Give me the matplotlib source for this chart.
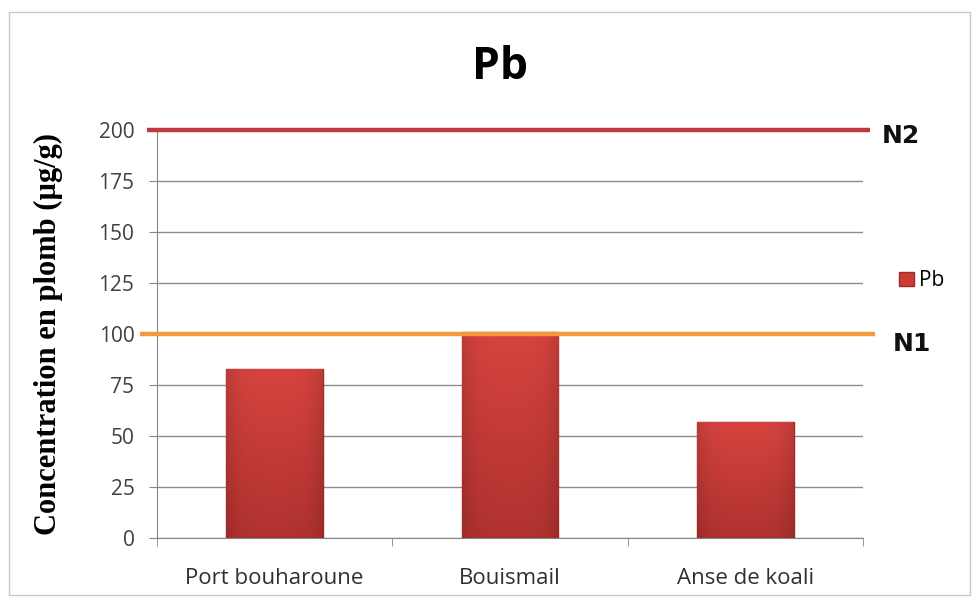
import numpy as np
import matplotlib.pyplot as plt
from matplotlib.patches import Rectangle
from matplotlib.colors import LinearSegmentedColormap

sites = ['Port bouharoune', 'Bouismail', 'Anse de koali']
pb_values = [83, 101, 57]
yticks = [0, 25, 50, 75, 100, 125, 150, 175, 200]
n1 = 100
n2 = 200

fig = plt.figure(figsize=(9.79, 6.01), dpi=100, facecolor='w')
fig.patches.append(Rectangle((0.009, 0.01), 0.982, 0.97, transform=fig.transFigure,
                             facecolor='none', edgecolor='#c8c8c8', linewidth=1))

ax = fig.add_axes([0.160, 0.105, 0.7215, 0.679])

x = range(len(sites))
bars = ax.bar(x, pb_values, width=0.41, color='#cc3b37', edgecolor='#9e2a27', linewidth=1.0,
              label='Pb', zorder=3)

# soft shading on the bars, lighter at the top, slightly darker at the sides
vshade = LinearSegmentedColormap.from_list('vshade', ['#b0322f', '#d6433f'])
vert = np.linspace(0, 1, 64).reshape(-1, 1)
side = 1 - 0.12 * (np.abs(np.linspace(-1, 1, 64)) ** 4)
for b in bars:
    x0, w, h = b.get_x(), b.get_width(), b.get_height()
    rgb = vshade(vert)[:, :, :3] * side.reshape(1, -1, 1)
    im = ax.imshow(rgb, aspect='auto', extent=[x0, x0 + w, 0, h], origin='lower',
                   zorder=3.1, interpolation='bilinear')
    im.set_clip_path(b)

ax.set_xlim(-0.5, len(sites) - 0.5)
ax.set_ylim(0, 200)
ax.set_yticks(yticks)
ax.set_yticklabels([str(t) for t in yticks], fontsize=15, color='#404040', family='Open Sans')
ax.set_xticks(list(x))
ax.set_xticklabels(sites, fontsize=16, color='#303030', family='Open Sans')
ax.tick_params(axis='x', length=0, pad=22)
ax.set_xticks([-0.5, 0.5, 1.5, 2.5], minor=True)
ax.tick_params(axis='x', which='minor', length=6, color='#868686', direction='out')
ax.tick_params(axis='y', length=6, color='#868686', direction='out', pad=10)

ax.yaxis.grid(True, color='#8c8c8c', linewidth=1)
ax.set_axisbelow(True)
for s in ['top', 'right']:
    ax.spines[s].set_visible(False)
ax.spines['left'].set_color('#868686')
ax.spines['bottom'].set_color('#868686')

# threshold lines N1 / N2, running a bit past the plot area
tr = ax.get_yaxis_transform()
ax.plot([-0.013, 1.01], [n2, n2], color='#c0393f', linewidth=3.2, transform=tr,
        clip_on=False, zorder=4, solid_capstyle='butt')
ax.plot([-0.024, 1.017], [n1, n1], color='#f59a3c', linewidth=3.2, transform=tr,
        clip_on=False, zorder=4, solid_capstyle='butt')
ax.text(1.026, n2 - 3, 'N2', transform=tr, fontsize=18, fontweight='bold',
        va='center', ha='left', color='#111111', family='DejaVu Sans')
ax.text(1.042, n1 - 5, 'N1', transform=tr, fontsize=18, fontweight='bold',
        va='center', ha='left', color='#111111', family='DejaVu Sans')

ax.set_ylabel('Concentration en plomb (µg/g)', fontsize=22, fontweight='bold',
              family='Liberation Serif')
ax.yaxis.set_label_coords(-0.133, 0.5)

fig.text(0.511, 0.888, 'Pb', fontsize=32, fontweight='bold', ha='center', va='center',
         family='Open Sans')

ax.legend(loc='center left', bbox_to_anchor=(1.025, 0.63), frameon=False,
          handlelength=0.7, handleheight=0.7, handletextpad=0.25,
          prop={'family': 'Open Sans', 'size': 15})

fig.savefig('out.png', dpi=100)
